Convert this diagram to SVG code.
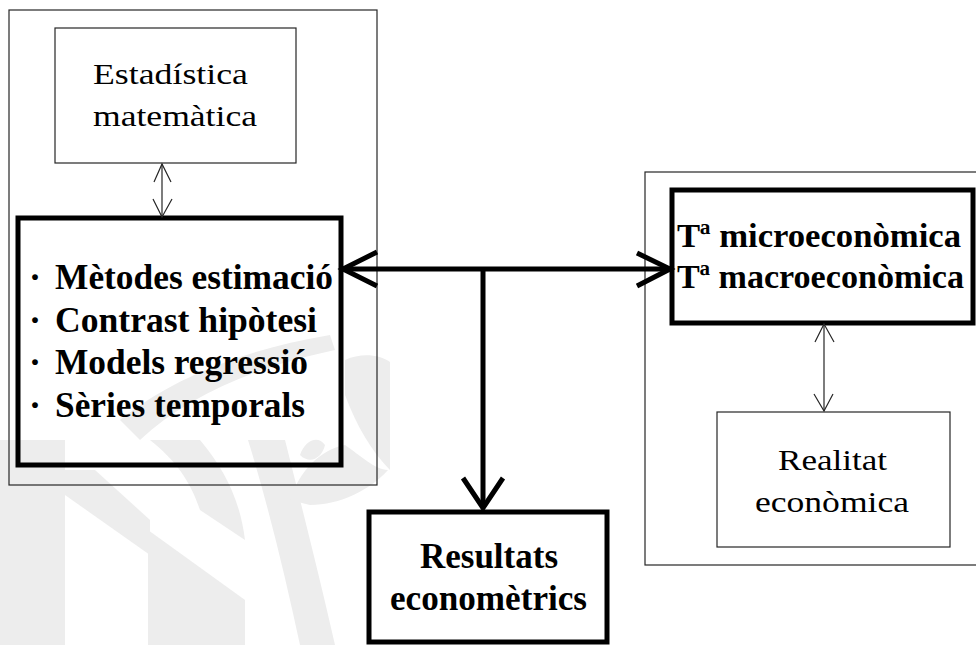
<svg xmlns="http://www.w3.org/2000/svg" width="976" height="645" viewBox="0 0 976 645">
  <style>
    .frame { fill: none; stroke: #262626; stroke-width: 1.2; }
    .box { fill: none; stroke: #262626; stroke-width: 1.2; }
    .thick { fill: none; stroke: #000000; stroke-width: 5; }
    .link { fill: none; stroke: #000000; stroke-width: 5; stroke-linecap: butt; stroke-linejoin: miter; }
    .thin { fill: none; stroke: #262626; stroke-width: 1.2; }
    .wm { fill: #ededed; stroke: none; }
    .reg { font-family: "Liberation Serif", "Times New Roman", serif; font-size: 30px; fill: #000; }
    .bold { font-family: "Liberation Serif", "Times New Roman", serif; font-size: 36px; font-weight: bold; fill: #000; }
    .bold-sm { font-family: "Liberation Serif", "Times New Roman", serif; font-size: 34px; font-weight: bold; fill: #000; }
  </style>

  <rect width="976" height="645" fill="#ffffff"/>

  <!-- faint background emblem -->
  <g id="emblem">
    <path class="wm" d="M0 440 L65 440 L65 645 L0 645 Z"/>
    <path class="wm" d="M65 470 L95 470 L150 520 L150 555 L65 495 Z"/>
    <path class="wm" d="M148 530 L245 600 L245 645 L148 645 Z"/>
    <path class="wm" d="M150 440 L200 440 C225 470 240 500 245 540 L200 510 C190 480 175 460 150 440 Z"/>
    <path class="wm" d="M248 440 L285 440 C300 500 318 570 335 645 L300 645 C285 575 268 505 248 440 Z"/>
    <path class="wm" d="M290 500 C300 470 320 450 345 445 C360 455 375 470 388 470 C370 490 340 505 310 505 Z"/>
    <path class="wm" d="M300 455 C305 440 318 435 325 445 C322 458 310 465 300 455 Z"/>
    <path class="wm" d="M345 360 C362 352 380 355 390 362 L390 470 C372 452 356 425 345 395 Z"/>
    <path class="wm" d="M120 420 C170 380 240 350 330 335 L335 350 C250 368 185 398 140 440 Z"/>
  </g>

  <!-- container frames -->
  <g id="left-group">
    <rect class="frame" x="9" y="10" width="368" height="475"/>
  </g>
  <g id="right-group">
    <rect class="frame" x="645" y="172" width="345" height="393"/>
  </g>

  <!-- nodes -->
  <g id="estadistica">
    <rect class="box" x="55" y="28" width="241" height="135"/>
    <text class="reg" x="93" y="84" textLength="155" lengthAdjust="spacingAndGlyphs">Estadística</text>
    <text class="reg" x="93" y="126" textLength="164" lengthAdjust="spacingAndGlyphs">matemàtica</text>
  </g>

  <g id="metodes">
    <rect class="thick" x="18" y="218" width="323" height="247"/>
    <text class="bold" x="29" y="289">·</text>
    <text class="bold" x="55" y="289" textLength="278" lengthAdjust="spacingAndGlyphs">Mètodes estimació</text>
    <text class="bold" x="29" y="332">·</text>
    <text class="bold" x="55" y="332" textLength="262" lengthAdjust="spacingAndGlyphs">Contrast hipòtesi</text>
    <text class="bold" x="29" y="374">·</text>
    <text class="bold" x="55" y="374" textLength="253" lengthAdjust="spacingAndGlyphs">Models regressió</text>
    <text class="bold" x="29" y="417">·</text>
    <text class="bold" x="55" y="417" textLength="250" lengthAdjust="spacingAndGlyphs">Sèries temporals</text>
  </g>

  <g id="teoria">
    <rect class="thick" x="672" y="190" width="301" height="133"/>
    <text class="bold-sm" x="677" y="247" textLength="284" lengthAdjust="spacingAndGlyphs">Tª microeconòmica</text>
    <text class="bold-sm" x="677" y="288" textLength="287" lengthAdjust="spacingAndGlyphs">Tª macroeconòmica</text>
  </g>

  <g id="realitat">
    <rect class="box" x="717" y="412" width="233" height="135"/>
    <text class="reg" x="778" y="470" textLength="109" lengthAdjust="spacingAndGlyphs">Realitat</text>
    <text class="reg" x="755" y="512" textLength="154" lengthAdjust="spacingAndGlyphs">econòmica</text>
  </g>

  <g id="resultats">
    <rect class="thick" x="369" y="512" width="238" height="130"/>
    <text class="bold" x="420" y="568" textLength="138" lengthAdjust="spacingAndGlyphs">Resultats</text>
    <text class="bold" x="390" y="610" textLength="197" lengthAdjust="spacingAndGlyphs">economètrics</text>
  </g>

  <!-- connectors -->
  <g id="connectors">
    <!-- main horizontal link between the two groups -->
    <line class="link" x1="343" y1="269" x2="670" y2="269"/>
    <polyline class="link" points="377,252 343,269 377,286"/>
    <polyline class="link" points="637,253 670,269 637,286"/>
    <!-- branch down to the results -->
    <line class="link" x1="483" y1="269" x2="483" y2="508"/>
    <polyline class="link" points="463,478 483,508 503,478"/>

    <!-- two-way links inside each group -->
    <line class="thin" x1="162" y1="164" x2="162" y2="217"/>
    <polyline class="thin" points="154,182 162,164 171,182"/>
    <polyline class="thin" points="153,199 162,217 172,199"/>

    <line class="thin" x1="824" y1="324" x2="824" y2="411"/>
    <polyline class="thin" points="815,342 824,324 834,342"/>
    <polyline class="thin" points="814,394 824,411 833,394"/>
  </g>
</svg>
